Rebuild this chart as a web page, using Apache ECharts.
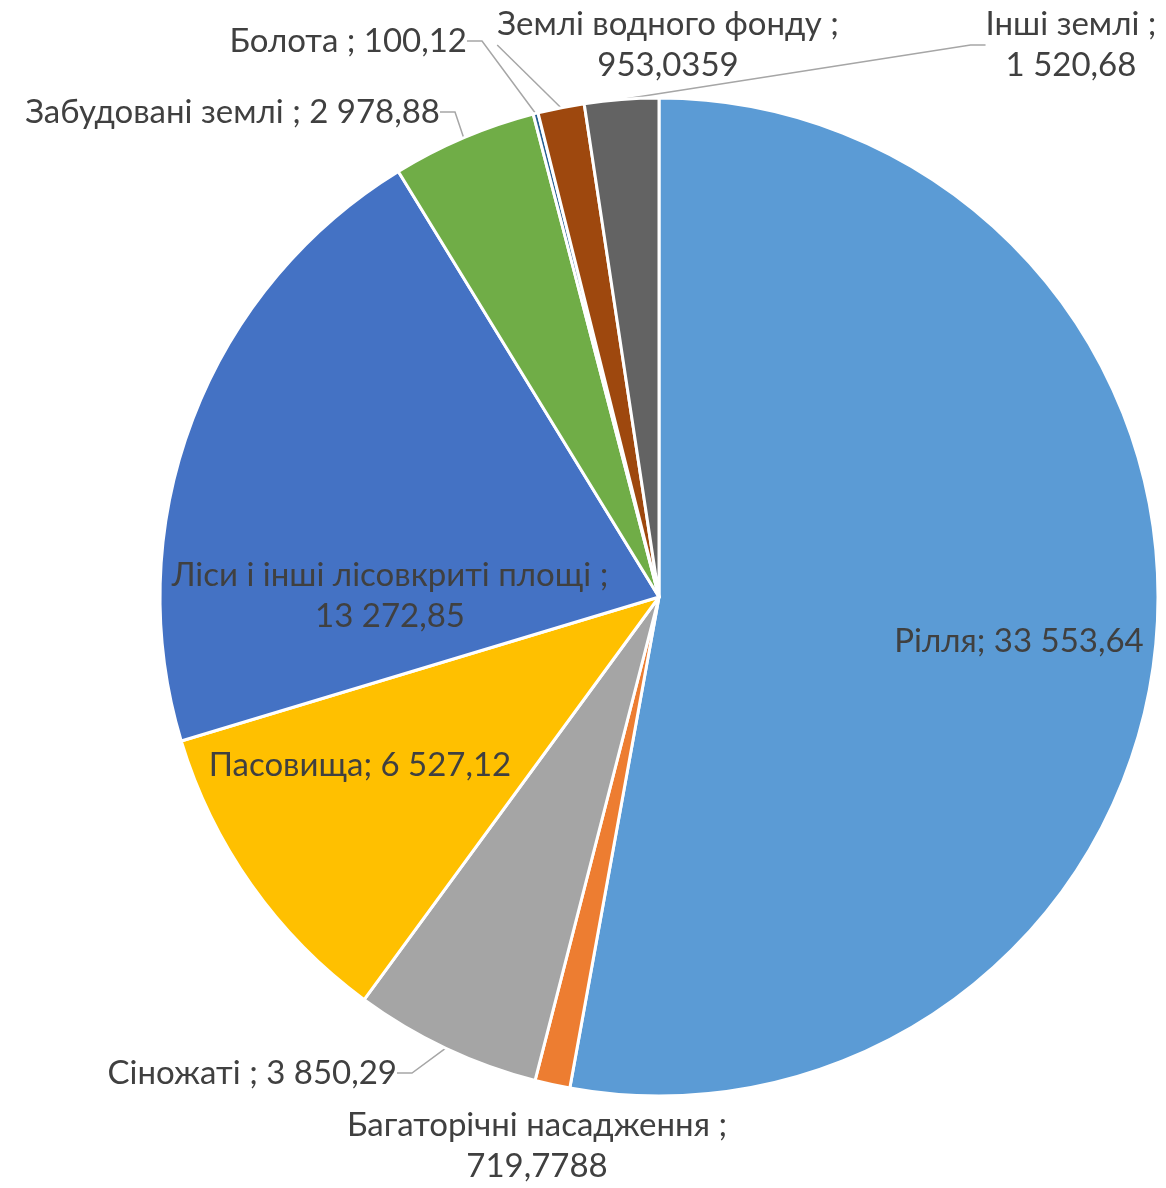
<!DOCTYPE html>
<html>
<head>
<meta charset="utf-8">
<script src="https://cdn.jsdelivr.net/npm/echarts@6/dist/echarts.min.js"></script>
<style>
  html, body { margin: 0; padding: 0; background: #fff; }
  #chart { width: 1166px; height: 1188px; }
</style>
</head>
<body>
<div id="chart"></div>
<script>
// land categories, clockwise from 12 o'clock
const categories = [
  "Рілля",
  "Багаторічні насадження",
  "Сіножаті",
  "Пасовища",
  "Ліси і інші лісовкриті площі",
  "Забудовані землі",
  "Болота",
  "Землі водного фонду",
  "Інші землі"
];
const areas = [33553.64, 719.7788, 3850.29, 6527.12, 13272.85, 2978.88, 100.12, 953.0359, 1520.68];
// value text exactly as printed on the chart
const valueLabels = ["33 553,64", "719,7788", "3 850,29", "6 527,12", "13 272,85", "2 978,88", "100,12", "953,0359", "1 520,68"];

const colors = ["#5B9BD5", "#ED7D31", "#A5A5A5", "#FFC000", "#4472C4", "#70AD47", "#255E91", "#9E480E", "#636363"];

// label text templates (Excel puts " ;" after most, "; " for inside ones)
const labelText = [
  "{n}; {v}",
  "{n} ;\n{v}",
  "{n} ; {v}",
  "{n}; {v}",
  "{n} ;\n{v}",
  "{n} ; {v}",
  "{n} ; {v}",
  "{n} ;\n{v}",
  "{n} ;\n{v}"
];
const insideIdx = [0, 3, 4];
const noLineIdx = [1];

// where each label sits: [x, y, align]
const labelSpots = [
  [1019, 641, "center"],
  [537, 1146, "center"],
  [397, 1073, "right"],
  [360, 765, "center"],
  [390, 596, "center"],
  [440, 112, "right"],
  [467, 41, "right"],
  [668, 45, "center"],
  [1071, 45, "center"]
];

const chart = echarts.init(document.getElementById("chart"));

const seriesData = categories.map((name, i) => ({
  name,
  value: areas[i],
  itemStyle: { color: colors[i] },
  label: {
    position: insideIdx.includes(i) ? "inside" : "outside",
    formatter: labelText[i].replace("{n}", name).replace("{v}", valueLabels[i])
  },
  labelLine: { show: !insideIdx.includes(i) && !noLineIdx.includes(i) }
}));

chart.setOption({
  animation: false,
  textStyle: { fontFamily: "Lato" },
  series: [{
    type: "pie",
    center: [659, 597],
    radius: 499,
    startAngle: 90,
    clockwise: true,
    avoidLabelOverlap: false,
    itemStyle: { borderColor: "#fff", borderWidth: 3 },
    label: {
      color: "#404040",
      fontFamily: "Lato",
      fontWeight: "normal",
      fontSize: 33,
      lineHeight: 41
    },
    labelLine: {
      lineStyle: { color: "#A6A6A6", width: 1.5 },
      length: 20,
      length2: 15
    },
    labelLayout: (p) => {
      const s = labelSpots[p.dataIndex];
      return { x: s[0], y: s[1], align: s[2], verticalAlign: "middle" };
    },
    data: seriesData
  }]
});
</script>
</body>
</html>
